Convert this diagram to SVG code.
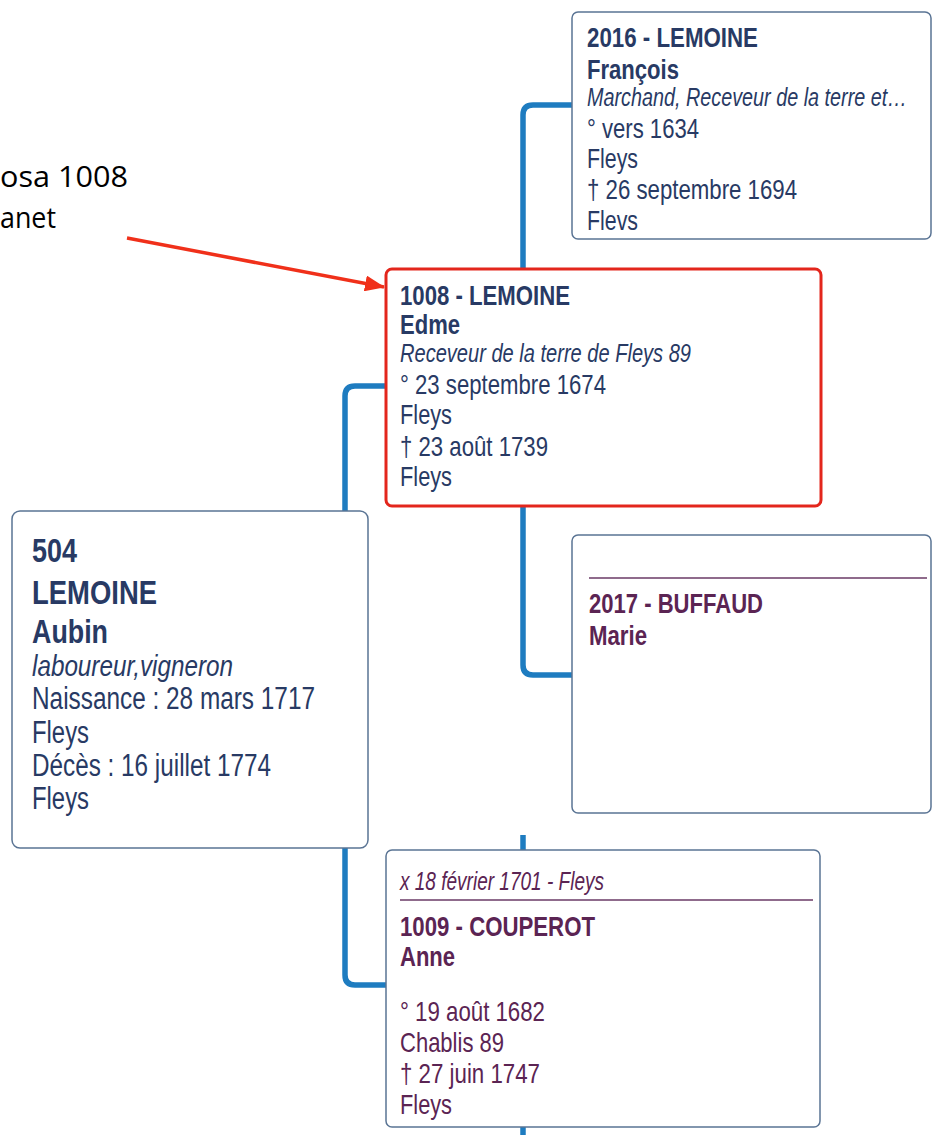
<svg xmlns="http://www.w3.org/2000/svg" width="933" height="1135" viewBox="0 0 933 1135">
<style>
.t{font-family:"Liberation Sans Narrow","Liberation Sans",Arial,sans-serif;fill:#283a64;font-size:28px}
.b{font-weight:bold}
.i{font-style:italic;font-size:25px}
.big{font-size:31px}
.bigb{font-size:34px;font-weight:bold}
.p{fill:#5b2453}
.box{fill:#fff;stroke:#5a7494;stroke-width:1.5}
.sel{fill:#fff;stroke:#e3261c;stroke-width:3}
.conn{fill:none;stroke:#1e7cc0;stroke-width:5.5}
.sep{stroke:#6a3a66;stroke-width:1.5}
.note{font-family:"Open Sans","Liberation Sans",sans-serif;font-size:30px;fill:#000}
</style>
<defs>
<marker id="ah" markerWidth="20" markerHeight="16" refX="19" refY="8" orient="auto" markerUnits="userSpaceOnUse" viewBox="0 0 20 16">
<path d="M0,0 L20,8 L0,16 z" fill="#f0301a"/>
</marker>
</defs>
<rect width="933" height="1135" fill="#fff"/>
<g id="connectors">
<path class="conn" d="M572,105 H533 Q523,105 523,115 V269"/>
<path class="conn" d="M523,506 V665 Q523,675 533,675 H572"/>
<path class="conn" d="M386,386 H355 Q345,386 345,396 V511"/>
<path class="conn" d="M345,848 V975 Q345,985 355,985 H386"/>
<path class="conn" d="M523,835 V850"/>
<path class="conn" d="M523,1127 V1135"/>
<line x1="127" y1="238" x2="384" y2="287" stroke="#f0301a" stroke-width="3.5" marker-end="url(#ah)"/>
</g>
<g id="note">
<text class="note" x="0" y="187" textLength="128" lengthAdjust="spacingAndGlyphs">osa 1008</text>
<text class="note" x="0" y="228" textLength="56" lengthAdjust="spacingAndGlyphs">anet</text>
</g>
<g id="n2016">
<rect class="box" x="572" y="12" width="359" height="227" rx="6"/>
<text class="t b" x="587" y="47" textLength="171" lengthAdjust="spacingAndGlyphs">2016 - LEMOINE</text>
<text class="t b" x="587" y="79" textLength="92" lengthAdjust="spacingAndGlyphs">François</text>
<text class="t i" x="587" y="106" textLength="320" lengthAdjust="spacingAndGlyphs">Marchand, Receveur de la terre et…</text>
<text class="t" x="587" y="138" textLength="112" lengthAdjust="spacingAndGlyphs">° vers 1634</text>
<text class="t" x="587" y="168" textLength="51" lengthAdjust="spacingAndGlyphs">Fleys</text>
<text class="t" x="587" y="199" textLength="210" lengthAdjust="spacingAndGlyphs">† 26 septembre 1694</text>
<text class="t" x="587" y="230" textLength="51" lengthAdjust="spacingAndGlyphs">Flevs</text>
</g>
<g id="n1008">
<rect class="sel" x="386" y="269" width="435" height="237" rx="6"/>
<text class="t b" x="400" y="305" textLength="170" lengthAdjust="spacingAndGlyphs">1008 - LEMOINE</text>
<text class="t b" x="400" y="334" textLength="60" lengthAdjust="spacingAndGlyphs">Edme</text>
<text class="t i" x="400" y="362" textLength="291" lengthAdjust="spacingAndGlyphs">Receveur de la terre de Fleys 89</text>
<text class="t" x="400" y="394" textLength="206" lengthAdjust="spacingAndGlyphs">° 23 septembre 1674</text>
<text class="t" x="400" y="424" textLength="52" lengthAdjust="spacingAndGlyphs">Fleys</text>
<text class="t" x="400" y="456" textLength="148" lengthAdjust="spacingAndGlyphs">† 23 août 1739</text>
<text class="t" x="400" y="486" textLength="52" lengthAdjust="spacingAndGlyphs">Fleys</text>
</g>
<g id="n504">
<rect class="box" x="12" y="511" width="356" height="337" rx="8"/>
<text class="t bigb" x="32" y="562" textLength="45" lengthAdjust="spacingAndGlyphs">504</text>
<text class="t bigb" x="32" y="604" textLength="125" lengthAdjust="spacingAndGlyphs">LEMOINE</text>
<text class="t bigb" x="32" y="643" textLength="76" lengthAdjust="spacingAndGlyphs">Aubin</text>
<text class="t i" x="32" y="676" style="font-size:30px" textLength="201" lengthAdjust="spacingAndGlyphs">laboureur,vigneron</text>
<text class="t big" x="32" y="709" textLength="283" lengthAdjust="spacingAndGlyphs">Naissance : 28 mars 1717</text>
<text class="t big" x="32" y="743" textLength="57" lengthAdjust="spacingAndGlyphs">Fleys</text>
<text class="t big" x="32" y="776" textLength="239" lengthAdjust="spacingAndGlyphs">Décès : 16 juillet 1774</text>
<text class="t big" x="32" y="809" textLength="57" lengthAdjust="spacingAndGlyphs">Fleys</text>
</g>
<g id="n2017">
<rect class="box" x="572" y="535" width="359" height="278" rx="6"/>
<line class="sep" x1="589" y1="578" x2="927" y2="578"/>
<text class="t b p" x="589" y="613" textLength="174" lengthAdjust="spacingAndGlyphs">2017 - BUFFAUD</text>
<text class="t b p" x="589" y="645" textLength="58" lengthAdjust="spacingAndGlyphs">Marie</text>
</g>
<g id="n1009">
<rect class="box" x="386" y="850" width="434" height="277" rx="6"/>
<text class="t i p" x="400" y="890" textLength="204" lengthAdjust="spacingAndGlyphs">x 18 février 1701 - Fleys</text>
<line class="sep" x1="400" y1="900" x2="813" y2="900"/>
<text class="t b p" x="400" y="936" textLength="195" lengthAdjust="spacingAndGlyphs">1009 - COUPEROT</text>
<text class="t b p" x="400" y="966" textLength="55" lengthAdjust="spacingAndGlyphs">Anne</text>
<text class="t p" x="400" y="1021" textLength="145" lengthAdjust="spacingAndGlyphs">° 19 août 1682</text>
<text class="t p" x="400" y="1052" textLength="104" lengthAdjust="spacingAndGlyphs">Chablis 89</text>
<text class="t p" x="400" y="1083" textLength="140" lengthAdjust="spacingAndGlyphs">† 27 juin 1747</text>
<text class="t p" x="400" y="1114" textLength="52" lengthAdjust="spacingAndGlyphs">Fleys</text>
</g>
</svg>
